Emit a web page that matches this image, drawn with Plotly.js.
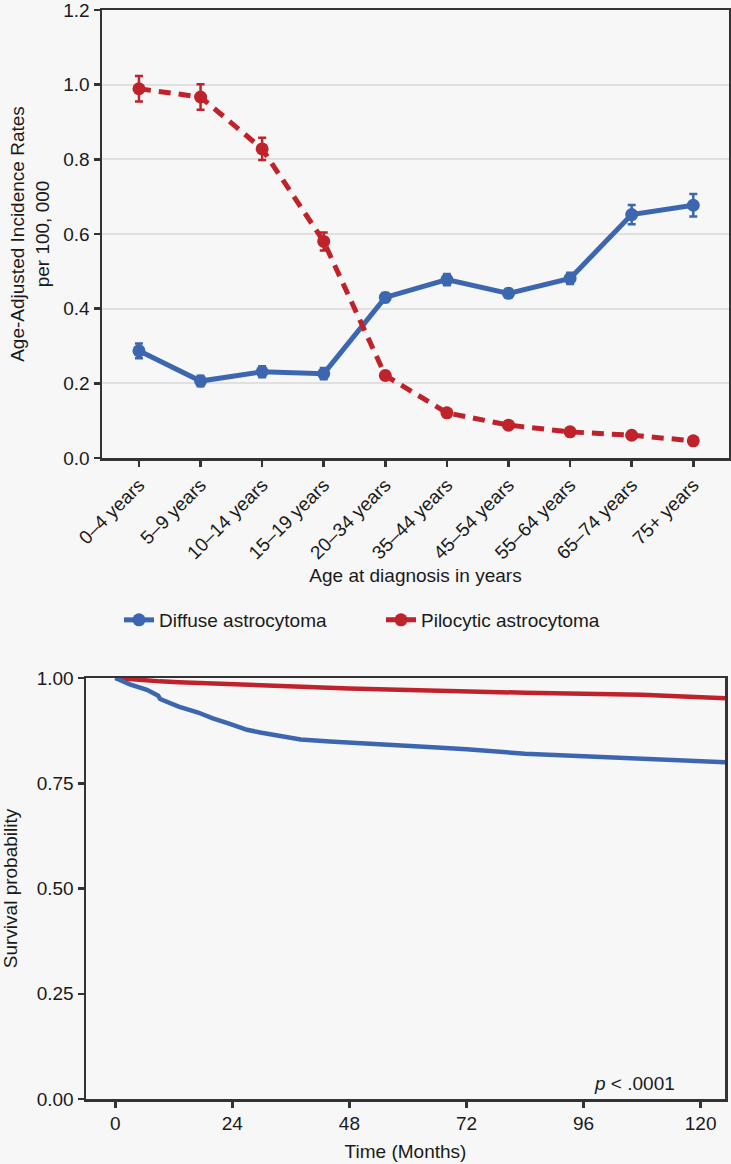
<!DOCTYPE html>
<html>
<head>
<meta charset="utf-8">
<script src="https://cdn.plot.ly/plotly-3.0.1.min.js"></script>
<style>
  html, body { margin: 0; padding: 0; background: #f7f7f7; }
  #chart { width: 731px; height: 1164px; }
</style>
</head>
<body>
<div id="chart"></div>
<script>
// ---- Panel A: age-adjusted incidence rates ----
var ageGroups = ["0–4 years", "5–9 years", "10–14 years", "15–19 years", "20–34 years",
                 "35–44 years", "45–54 years", "55–64 years", "65–74 years", "75+ years"];
var diffuseRate = [0.287, 0.206, 0.231, 0.226, 0.430, 0.478, 0.441, 0.481, 0.652, 0.677];
var diffuseErr  = [0.020, 0.014, 0.015, 0.015, 0.012, 0.015, 0.012, 0.015, 0.026, 0.030];
var pilocyticRate = [0.989, 0.967, 0.828, 0.580, 0.221, 0.121, 0.088, 0.070, 0.061, 0.046];
var pilocyticErr  = [0.034, 0.034, 0.030, 0.024, 0.010, 0.006, 0.005, 0.004, 0.004, 0.004];
var rateTicks = [0, 0.2, 0.4, 0.6, 0.8, 1.0, 1.2];

// ---- Panel B: survival probability ----
var survMonths = [0, 3, 6.5, 8.8, 9.2, 13, 17, 20, 23.5, 27, 30, 34, 38, 44, 48, 54, 60, 66, 72, 78, 84, 90, 96, 102, 108, 114, 120, 125];
var diffuseSurv = [1.000, 0.985, 0.972, 0.958, 0.950, 0.932, 0.918, 0.904, 0.891, 0.877, 0.870, 0.861, 0.854, 0.849,
                   0.846, 0.843, 0.839, 0.835, 0.831, 0.825, 0.820, 0.817, 0.814, 0.811, 0.806, 0.803, 0.801, 0.800];
var pilocyticSurv = [1.000, 0.997, 0.995, 0.993, 0.992, 0.990, 0.988, 0.987, 0.985, 0.984, 0.982, 0.980, 0.978, 0.976,
                     0.975, 0.973, 0.971, 0.969, 0.967, 0.966, 0.965, 0.964, 0.963, 0.962, 0.960, 0.957, 0.954, 0.952];
var survTicks = [0, 24, 48, 72, 96, 120];
var survYTicks = [0, 0.25, 0.5, 0.75, 1.0];

var seriesNames = ["Diffuse astrocytoma", "Pilocytic astrocytoma"];
var BLUE = "#3c67b0";
var RED = "#c0222b";
var AXC = "#333333";
var FS = 19;
var W = 731, H = 1164;

var traces = [
  {
    x: ageGroups, y: diffuseRate, name: seriesNames[0], type: "scatter", mode: "lines+markers",
    xaxis: "x", yaxis: "y",
    line: { color: BLUE, width: 5 },
    marker: { color: BLUE, size: 13 },
    error_y: { type: "data", array: diffuseErr, visible: true, color: BLUE, thickness: 2.5, width: 4 }
  },
  {
    x: ageGroups, y: pilocyticRate, name: seriesNames[1], type: "scatter", mode: "lines+markers",
    xaxis: "x", yaxis: "y",
    line: { color: RED, width: 5, dash: "12px,8px" },
    marker: { color: RED, size: 13 },
    error_y: { type: "data", array: pilocyticErr, visible: true, color: RED, thickness: 2.5, width: 4 }
  },
  {
    x: survMonths, y: pilocyticSurv, name: seriesNames[1], type: "scatter", mode: "lines",
    xaxis: "x2", yaxis: "y2", showlegend: false,
    line: { color: RED, width: 4.5 }
  },
  {
    x: survMonths, y: diffuseSurv, name: seriesNames[0], type: "scatter", mode: "lines",
    xaxis: "x2", yaxis: "y2", showlegend: false,
    line: { color: BLUE, width: 4.5 }
  }
];

var axisCommon = {
  showline: true, linecolor: AXC, linewidth: 2.5, mirror: true,
  ticks: "outside", ticklen: 6, tickwidth: 2.5, tickcolor: AXC,
  zeroline: false, tickfont: { size: FS, color: "#1a1a1a" },
  ticklabeloverflow: "allow"
};

var layout = {
  width: W, height: H,
  paper_bgcolor: "#f7f7f7", plot_bgcolor: "#f7f7f7",
  margin: { l: 0, r: 0, t: 0, b: 0 },
  font: { family: "Liberation Sans, Arial, sans-serif", size: FS, color: "#1a1a1a" },
  showlegend: true,
  legend: {
    orientation: "h", x: 119 / W, xanchor: "left", y: 1 - 620 / H, yanchor: "middle",
    bgcolor: "rgba(0,0,0,0)", font: { size: FS }, entrywidth: 217
  },
  xaxis: Object.assign({}, axisCommon, {
    domain: [102 / W, 729 / W], anchor: "y", type: "category",
    range: [-0.6, 9.58], tickangle: -45, showgrid: false,
    title: { text: "Age at diagnosis in years", standoff: 7, font: { size: FS } }
  }),
  yaxis: Object.assign({}, axisCommon, {
    domain: [1 - 458 / H, 1 - 10 / H], anchor: "x",
    range: [0, 1.2], tickvals: rateTicks, tickformat: ".1f",
    showgrid: true, gridcolor: "#e0e0e0", gridwidth: 2,
    title: { text: "Age-Adjusted Incidence Rates<br>per 100, 000", standoff: 9, font: { size: FS } }
  }),
  xaxis2: Object.assign({}, axisCommon, {
    domain: [86 / W, 725 / W], anchor: "y2",
    range: [-6, 125], tickvals: survTicks, showgrid: false,
    title: { text: "Time (Months)", standoff: 12, font: { size: FS } }
  }),
  yaxis2: Object.assign({}, axisCommon, {
    domain: [1 - 1099 / H, 1 - 678 / H], anchor: "x2",
    range: [0, 1], tickvals: survYTicks, tickformat: ".2f", showgrid: false,
    title: { text: "Survival probability", standoff: 16, font: { size: FS } }
  }),
  annotations: [
    {
      text: "<i>p</i> < .0001", xref: "paper", yref: "paper",
      x: 677 / W, xanchor: "right", y: 1 - 1083 / H, yanchor: "middle",
      showarrow: false, font: { size: FS, color: "#1a1a1a" }
    }
  ]
};

Plotly.newPlot("chart", traces, layout, { displayModeBar: false, staticPlot: true });
</script>
</body>
</html>
